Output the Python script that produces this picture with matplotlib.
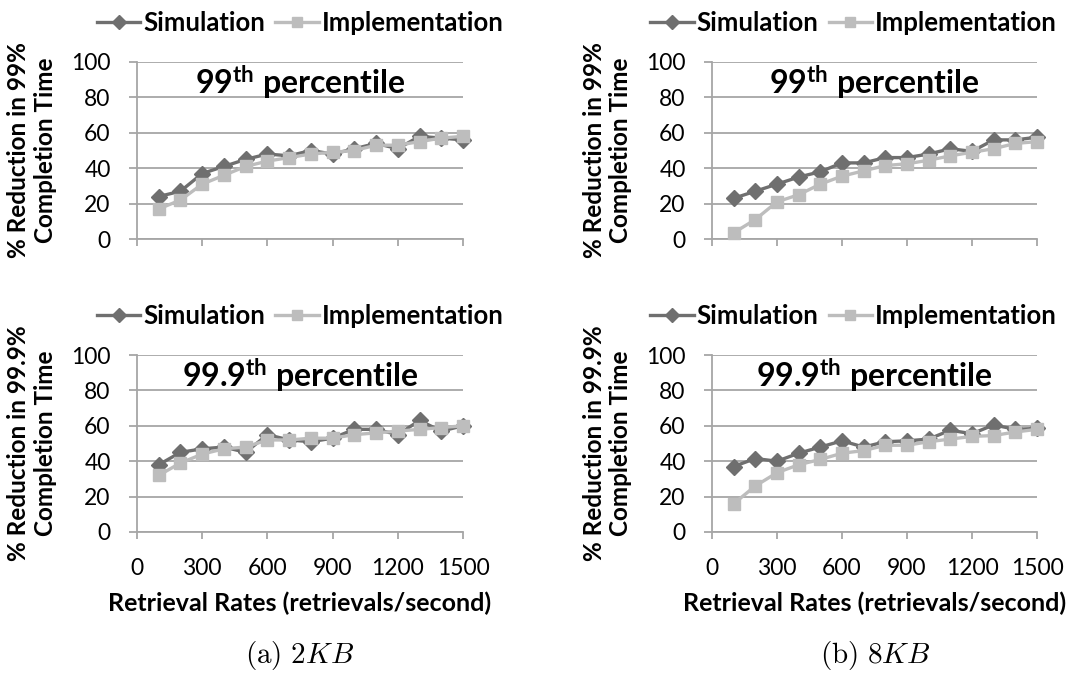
import matplotlib
matplotlib.use("Agg")
import matplotlib.pyplot as plt

# retrieval rates (retrievals/second)
rates = [100, 200, 300, 400, 500, 600, 700, 800, 900, 1000, 1100, 1200, 1300, 1400, 1500]

# % reduction, 2KB
sim_99_2kb = [24, 27, 37, 41, 45, 48, 47, 50, 48, 51, 54, 51, 58, 57, 56]
imp_99_2kb = [17, 22, 31, 36, 41, 44, 46, 48, 49, 50, 53, 53, 55, 57, 58]
sim_999_2kb = [38, 45, 47, 48, 45, 55, 52, 51, 53, 58, 58, 55, 63, 57, 60]
imp_999_2kb = [32, 39, 44, 47, 48, 52, 52, 53, 53, 55, 56, 57, 58, 59, 60]

# % reduction, 8KB
sim_99_8kb = [23, 27, 31, 35, 38, 43, 43, 46, 46, 48, 51, 49.5, 56, 56, 57.5]
imp_99_8kb = [3.5, 11, 21, 25, 31, 35.5, 38.5, 41.5, 42.5, 44.5, 47, 49, 51, 54, 55]
sim_999_8kb = [37, 41.5, 40, 44.5, 48, 51.5, 48, 51, 51.5, 52.5, 57.5, 55.5, 60.5, 58, 58.5]
imp_999_8kb = [16, 26, 33.5, 38, 41, 44.5, 46, 49, 49, 51, 52.5, 54, 54.5, 56.5, 58]

titles = ["99", "99", "99.9", "99.9"]
ylabels = ["% Reduction in 99%\nCompletion Time",
           "% Reduction in 99%\nCompletion Time",
           "% Reduction in 99.9%\nCompletion Time",
           "% Reduction in 99.9%\nCompletion Time"]
captions = [r"$\mathrm{(a)}\ 2KB$", r"$\mathrm{(b)}\ 8KB$"]

plt.rcParams["font.family"] = ["Lato", "DejaVu Sans"]
plt.rcParams["mathtext.fontset"] = "custom"
plt.rcParams["mathtext.bf"] = "Lato:bold"
plt.rcParams["mathtext.rm"] = "Lato"

W, H = 1075, 685
fig = plt.figure(figsize=(W / 100, H / 100), dpi=100)

# axes boxes in pixels: left, right, top, bottom
boxes = [(137, 463, 62, 239), (712, 1037, 62, 239),
         (137, 463, 355, 532), (712, 1037, 355, 532)]
legend_x = [0.5, 0.435, 0.5, 0.435]
data = [(sim_99_2kb, imp_99_2kb), (sim_99_8kb, imp_99_8kb),
        (sim_999_2kb, imp_999_2kb), (sim_999_8kb, imp_999_8kb)]

dark = "#6f6f6f"
light = "#bdbdbd"
grid = "#a6a6a6"

for i, (l, r, t, b) in enumerate(boxes):
    ax = fig.add_axes([l / W, (H - b) / H, (r - l) / W, (b - t) / H])
    sim, imp = data[i]
    ax.plot(rates, sim, color=dark, lw=2.4, marker="D", ms=8.5,
            label="Simulation", clip_on=False, zorder=3)
    ax.plot(rates, imp, color=light, lw=2.4, marker="s", ms=8.5,
            label="Implementation", clip_on=False, zorder=4)
    ax.set_xlim(0, 1500)
    ax.set_ylim(0, 100)
    ax.set_xticks([0, 300, 600, 900, 1200, 1500])
    ax.set_yticks([0, 20, 40, 60, 80, 100])
    ax.yaxis.grid(True, color=grid, lw=1.3)
    ax.set_axisbelow(True)
    for s in ["top", "right"]:
        ax.spines[s].set_visible(False)
    for s in ["left", "bottom"]:
        ax.spines[s].set_color(grid)
        ax.spines[s].set_linewidth(1.3)
    ax.tick_params(axis="y", length=6, width=1.3, color=grid, pad=13, labelsize=16.5)
    ax.tick_params(axis="x", length=5, width=1.3, color=grid, pad=14, labelsize=16.5)
    if i < 2:
        ax.tick_params(axis="x", labelbottom=False)
    else:
        ax.set_xlabel("Retrieval Rates (retrievals/second)", fontsize=18,
                      fontweight="bold", labelpad=9)
    ax.set_ylabel(ylabels[i], fontsize=17.5, fontweight="bold", linespacing=1.2)
    ax.yaxis.set_label_coords(-0.245, 0.5)
    ax.text(0.5, 0.88, r"$\mathbf{" + titles[i] + r"^{th}}$ percentile",
            transform=ax.transAxes, ha="center", va="center",
            fontsize=23, fontweight="bold")
    ax.legend(loc="center", bbox_to_anchor=(legend_x[i], 1.22), ncol=2, frameon=False,
              prop={"weight": "bold", "size": 18.5},
              handlelength=1.7, handletextpad=0.1, columnspacing=0.4,
              numpoints=1, markerscale=0.8, borderaxespad=0)

for j, cx in enumerate([300, 875]):
    txt = fig.text(cx / W, 1 - 655 / H, captions[j], ha="center", va="center",
                   fontsize=21)
    txt.set_math_fontfamily("cm")

fig.savefig("out.png", dpi=100)
